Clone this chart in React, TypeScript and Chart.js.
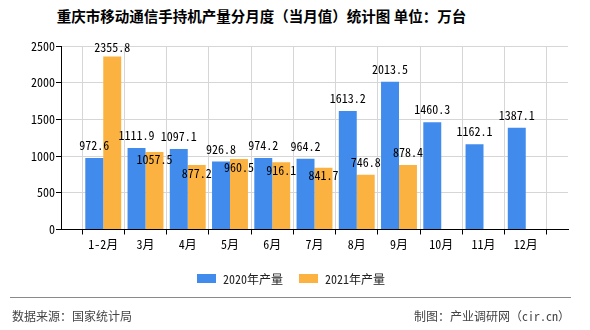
import React, { useEffect, useRef } from "react";
import { Chart, registerables } from "chart.js";

Chart.register(...registerables);

const TITLE = "重庆市移动通信手持机产量分月度（当月值）统计图 单位：万台";
const CATEGORIES = ["1-2月", "3月", "4月", "5月", "6月", "7月", "8月", "9月", "10月", "11月", "12月"];
const SERIES_2020 = [972.6, 1111.9, 1097.1, 926.8, 974.2, 964.2, 1613.2, 2013.5, 1460.3, 1162.1, 1387.1];
const SERIES_2021 = [2355.8, 1057.5, 877.2, 960.5, 916.1, 841.7, 746.8, 878.4, null, null, null];
const SERIES_NAMES = ["2020年产量", "2021年产量"];
const Y_TICKS = [0, 500, 1000, 1500, 2000, 2500];
const SOURCE = "数据来源：国家统计局";
const CREDIT = "制图：产业调研网（cir.cn）";

const BLUE = "#418bec";
const ORANGE = "#fbb241";
const MONO = "'Noto Sans Mono CJK SC', 'DejaVu Sans Mono', monospace";
const SANS = "'Noto Sans CJK SC', 'Noto Sans', sans-serif";

const labelPlugin = {
  id: "barLabels",
  afterDatasetsDraw(chart: any) {
    const ctx = chart.ctx;
    const top = chart.chartArea.top;
    ctx.save();
    ctx.font = `12px ${MONO}`;
    ctx.fillStyle = "#000";
    ctx.textAlign = "center";
    ctx.textBaseline = "middle";
    const first: (number | undefined)[] = [];
    chart.getDatasetMeta(0).data.forEach((el: any, i: number) => {
      const v = chart.data.datasets[0].data[i];
      if (v == null) return;
      const y = Math.max(el.y - 12.5, top + 1);
      first[i] = y;
      ctx.fillText(Number(v).toFixed(1), el.x, y);
    });
    chart.getDatasetMeta(1).data.forEach((el: any, i: number) => {
      const v = chart.data.datasets[1].data[i];
      if (v == null) return;
      let y = el.y - 12.5;
      const f = first[i];
      if (f != null && Math.abs(f - y) < 20) y = el.y + 8;
      y = Math.max(y, top + 1);
      ctx.fillText(Number(v).toFixed(1), el.x, y);
    });
    ctx.restore();
  },
};

export default function App() {
  const ref = useRef<HTMLCanvasElement | null>(null);

  useEffect(() => {
    if (!ref.current) return;
    const labels = ["", ...CATEGORIES, ""];
    const chart = new Chart(ref.current, {
      type: "bar",
      data: {
        labels,
        datasets: [
          {
            label: SERIES_NAMES[0],
            data: [null, ...SERIES_2020, null],
            backgroundColor: BLUE,
            categoryPercentage: 0.85,
            barPercentage: 1,
          },
          {
            label: SERIES_NAMES[1],
            data: [null, ...SERIES_2021, null],
            backgroundColor: ORANGE,
            categoryPercentage: 0.85,
            barPercentage: 1,
          },
        ],
      },
      options: {
        animation: false,
        responsive: false,
        devicePixelRatio: 1,
        layout: { padding: { top: 46, left: 0, right: 22, bottom: 70.5 } },
        plugins: { legend: { display: false }, title: { display: false }, tooltip: { enabled: false } },
        scales: {
          x: {
            type: "category",
            offset: false,
            grid: { color: "#d6d6d6", tickColor: "#000", tickLength: 5, lineWidth: 1 },
            border: { color: "#000", width: 1 },
            ticks: {
              color: "#000",
              font: { family: MONO, size: 12 },
              padding: 3,
              autoSkip: false,
              maxRotation: 0,
            },
            afterFit: (s: any) => {
              s.height = 30;
            },
          },
          y: {
            min: 0,
            max: 2500,
            afterBuildTicks: (s: any) => {
              s.ticks = Y_TICKS.map((v) => ({ value: v }));
            },
            grid: { color: "#d6d6d6", tickColor: "#000", tickLength: 5, lineWidth: 1 },
            border: { color: "#000", width: 1 },
            ticks: {
              color: "#000",
              font: { family: MONO, size: 12 },
              padding: 1,
              callback: (v: any) => String(v),
            },
            afterFit: (s: any) => {
              s.width = 61;
            },
          },
        },
      },
      plugins: [labelPlugin],
    } as any);
    return () => chart.destroy();
  }, []);

  const legendItem = (color: string, text: string, boxLeft: number) => (
    <div style={{ position: "absolute", left: boxLeft, top: 270, height: 16, display: "flex", alignItems: "center" }}>
      <div style={{ width: 19, height: 9, background: color }} />
      <span style={{ marginLeft: 7, font: `12px ${MONO}`, color: "#222", whiteSpace: "nowrap" }}>{text}</span>
    </div>
  );

  return (
    <div style={{ position: "fixed", left: 0, top: 0, width: 590, height: 330, background: "#fff", overflow: "hidden" }}>
      <div
        style={{
          position: "absolute",
          left: 0,
          top: 7,
          width: 523,
          textAlign: "center",
          font: `bold 14.5px ${SANS}`,
          lineHeight: "18px",
          color: "#000",
          whiteSpace: "pre",
        }}
      >
        {TITLE}
      </div>
      <canvas ref={ref} width={590} height={330} style={{ position: "absolute", left: 0, top: 0, width: 590, height: 330 }} />
      {legendItem(BLUE, SERIES_NAMES[0], 197)}
      {legendItem(ORANGE, SERIES_NAMES[1], 299)}
      <div style={{ position: "absolute", left: 10, top: 297, width: 561, height: 1, background: "#8a8a8a" }} />
      <div style={{ position: "absolute", left: 12, top: 308, font: `12px ${MONO}`, lineHeight: "16px", color: "#444", whiteSpace: "nowrap" }}>
        {SOURCE}
      </div>
      <div style={{ position: "absolute", right: 20, top: 308, font: `12px ${MONO}`, lineHeight: "16px", color: "#444", whiteSpace: "nowrap" }}>
        {CREDIT}
      </div>
    </div>
  );
}
